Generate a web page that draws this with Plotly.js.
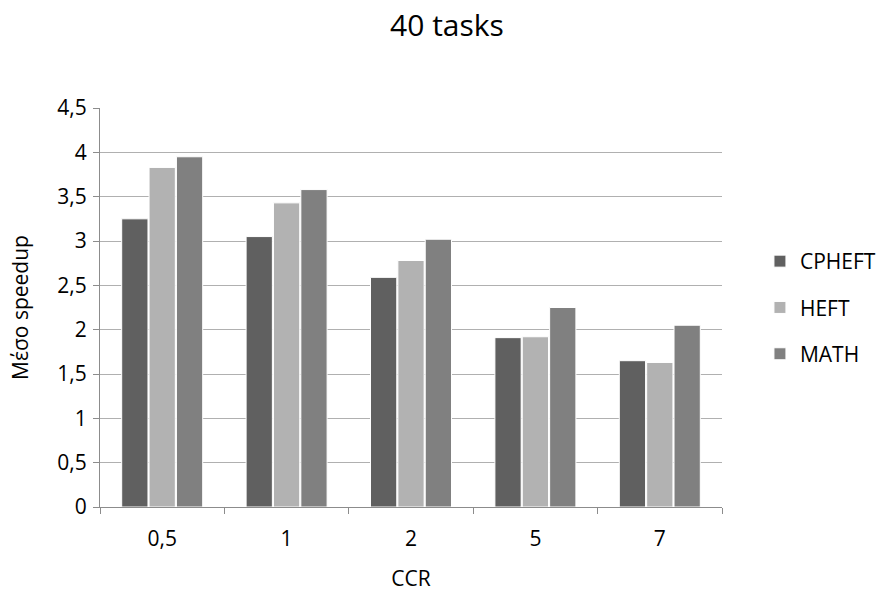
<!DOCTYPE html>
<html><head><meta charset="utf-8">
<script src="https://cdn.plot.ly/plotly-3.0.1.min.js"></script>
<style>html,body{margin:0;padding:0;background:#fff}</style>
</head><body>
<div id="chart" style="width:894px;height:599px"></div>
<script>
const categories = ["0,5", "1", "2", "5", "7"];
const cpheft = [3.25, 3.05, 2.59, 1.91, 1.65];
const heft = [3.83, 3.43, 2.78, 1.92, 1.63];
const math = [3.95, 3.58, 3.02, 2.25, 2.05];
const seriesNames = ["CPHEFT", "HEFT", "MATH"];
const colors = ["#606060", "#b2b2b2", "#808080"];
const F = "Open Sans, Liberation Sans, sans-serif";
const data = [cpheft, heft, math].map((v, i) => ({
  type: "bar", x: categories, y: v, name: seriesNames[i], legendgroup: "g" + i,
  marker: {color: colors[i], line: {color: "#ffffff", width: 1}},
  hoverinfo: "y"
}));
const layout = {
  width: 894, height: 599,
  margin: {l: 100, r: 172, t: 108, b: 92},
  paper_bgcolor: "#fff", plot_bgcolor: "#fff",
  title: {text: "40 tasks", font: {family: F, size: 30, color: "#000"}, x: 0.5, xanchor: "center", y: 0.957, yanchor: "middle"},
  bargap: 0.34, bargroupgap: 0.04,
  xaxis: {type: "category", tickson: "boundaries", ticks: "outside", ticklen: 6, tickcolor: "#8c8c8c",
    showline: true, linecolor: "#8c8c8c", linewidth: 1, showgrid: false,
    ticklabelstandoff: 13,
    tickfont: {family: F, size: 21, color: "#000"},
    title: {text: "CCR", font: {family: F, size: 21, color: "#000"}, standoff: 20}},
  yaxis: {range: [0, 4.5], dtick: 0.5, tickformat: ".1~f",
    ticks: "outside", ticklen: 6, tickcolor: "#8c8c8c",
    showline: true, linecolor: "#8c8c8c", linewidth: 1,
    showgrid: true, gridcolor: "#b0b0b0", gridwidth: 1, zeroline: false,
    ticklabelstandoff: 2,
    tickfont: {family: F, size: 21, color: "#000"},
    title: {text: "Μέσο speedup", font: {family: F, size: 21, color: "#000"}, standoff: 22}},
  separators: ",.",
  legend: {x: 1.061, xanchor: "left", xref: "paper", y: 0.5, yanchor: "middle",
    traceorder: "grouped", tracegroupgap: 16,
    font: {family: F, size: 21, color: "#000"}, itemwidth: 30},
  showlegend: true
};
Plotly.newPlot("chart", data, layout, {displayModeBar: false, staticPlot: true});
</script>
</body></html>
